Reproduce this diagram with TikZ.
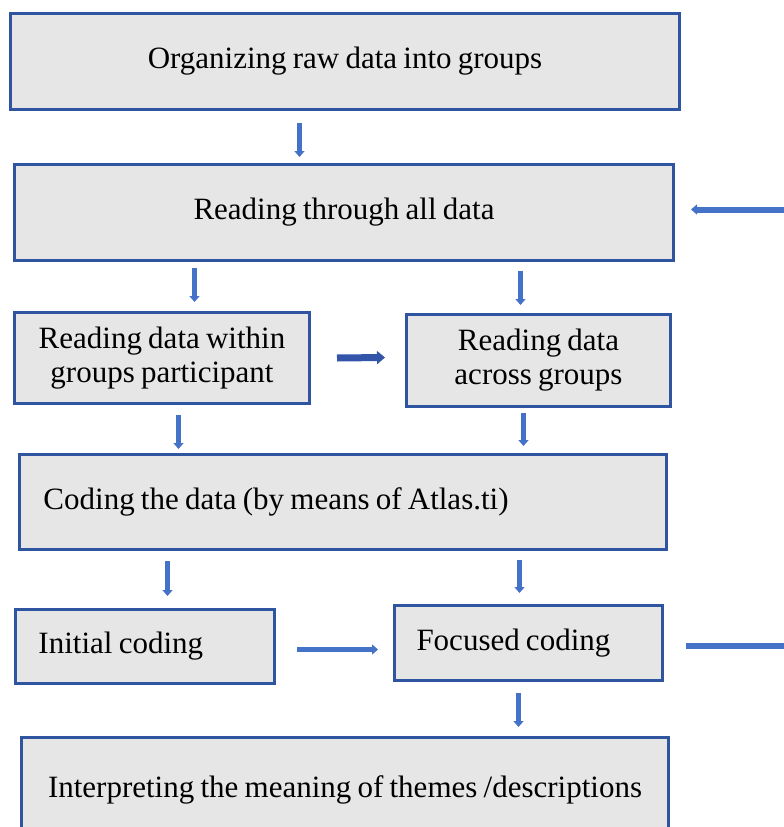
\documentclass[tikz,border=0pt]{standalone}
\usepackage{fontspec}
\setmainfont[WordSpace=0.8]{Liberation Serif}
\usetikzlibrary{arrows.meta}
\definecolor{boxline}{RGB}{47,84,160}
\definecolor{boxfill}{RGB}{230,230,230}
\definecolor{arrowblue}{RGB}{68,114,200}
\definecolor{arrowdark}{RGB}{50,85,170}
\tikzset{
  box/.style={draw=boxline, fill=boxfill, line width=3pt, inner sep=0pt, anchor=north west,
    font=\fontsize{31}{34}\selectfont, align=center,
    execute at begin node={\spaceskip=0pt\xspaceskip=0pt}},
  arr/.style={draw=arrowblue, line width=5pt, -{Triangle[width=10pt,length=6pt]}},
  arrdark/.style={draw=arrowdark, line width=7pt, -{Triangle[width=13pt,length=8pt]}},
  loopline/.style={draw=arrowblue, line width=6pt}
}
\begin{document}
\begin{tikzpicture}[x=1pt,y=-1pt]
\useasboundingbox (0,0) rectangle (784,827);
\clip (0,0) rectangle (784,827);
\node[box, minimum width=669pt, minimum height=96pt] (b1) at (9,12) {\mbox{Organizing raw data into groups}};
\node[box, minimum width=659pt, minimum height=96pt] (b2) at (13,163) {\mbox{Reading through all data}};
\node[box, minimum width=295pt, minimum height=91pt] (b3) at (13,311) {\mbox{Reading data within}\\\mbox{groups participant}};
\node[box, minimum width=264pt, minimum height=92pt] (b4) at (405,313) {\mbox{Reading data}\\\mbox{across groups}};
\node[box, minimum width=647pt, minimum height=95pt, text width=647pt, align=left] (b5) at (18,453) {\hspace*{24pt}\mbox{Coding the data (by means of Atlas.ti)}};
\node[box, minimum width=259pt, minimum height=74pt, text width=259pt, align=left] (b6) at (14,608) {\hspace*{23pt}\mbox{Initial coding}};
\node[box, minimum width=268pt, minimum height=75pt, text width=268pt, align=left] (b7) at (393,604) {\hspace*{22pt}\mbox{Focused coding}};
\node[box, minimum width=647pt, minimum height=104pt, text width=647pt, align=center] (b8) at (20,736) {\mbox{Interpreting the meaning of themes /descriptions}};
% arrows
\draw[arr] ([xshift=-45.5pt,yshift=-12pt]b1.south) -- ([xshift=-44.5pt,yshift=6pt]b2.north);
\draw[arr] ([xshift=-149.5pt,yshift=-6pt]b2.south) -- ([xshift=32.5pt,yshift=9pt]b3.north);
\draw[arr] ([xshift=176.5pt,yshift=-9pt]b2.south) -- ([xshift=-18pt,yshift=8pt]b4.north);
\draw[arrdark] ([xshift=26pt]b3.east) -- ([xshift=-20pt,yshift=3pt]b4.west);
\draw[arr] ([xshift=16.5pt,yshift=-10pt]b3.south) -- ([xshift=-164.5pt,yshift=4pt]b5.north);
\draw[arr] ([xshift=-15pt,yshift=-5pt]b4.south) -- ([xshift=180.5pt,yshift=7pt]b5.north);
\draw[arr] ([xshift=-175.5pt,yshift=-10pt]b5.south) -- ([xshift=22.5pt,yshift=12pt]b6.north);
\draw[arr] ([xshift=176.5pt,yshift=-9pt]b5.south) -- ([xshift=-9pt,yshift=11pt]b7.north);
\draw[arr] ([xshift=21pt,yshift=-3pt]b6.east) -- ([xshift=-15pt,yshift=-6.5pt]b7.west);
\draw[arr] ([xshift=-10pt,yshift=-11pt]b7.south) -- ([xshift=173.5pt,yshift=9pt]b8.north);
% feedback loop (vertical part lies outside the frame)
\coordinate (loopA) at ([xshift=22pt,yshift=-2.5pt]b7.east);
\coordinate (loopB) at (loopA -| 800,0);
\coordinate (loopT) at ([xshift=16pt,yshift=3pt]b2.east);
\coordinate (loopC) at (loopT -| 800,0);
\draw[loopline] (loopA) -- (loopB) -- (loopC);
\draw[arr, line width=6pt] (loopC) -- (loopT);
\end{tikzpicture}
\end{document}
